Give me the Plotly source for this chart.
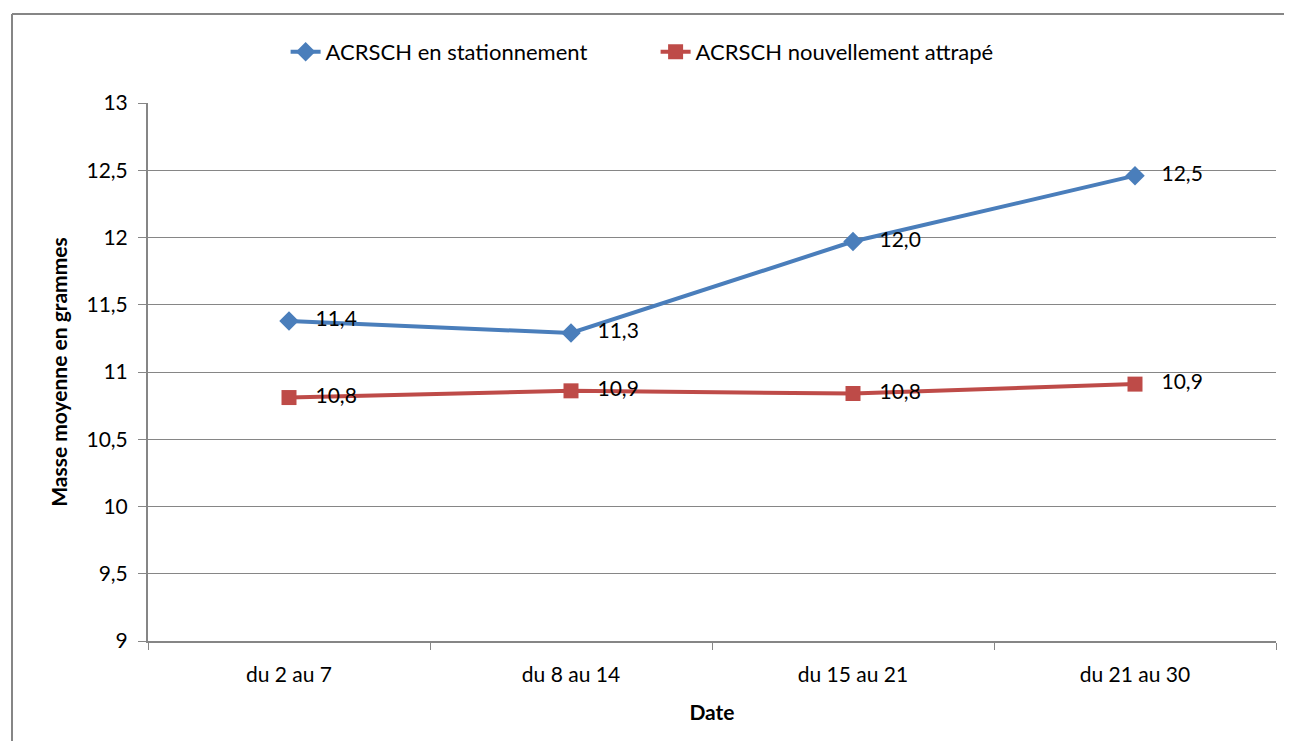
import plotly.graph_objects as go

categories = ["du 2 au 7", "du 8 au 14", "du 15 au 21", "du 21 au 30"]
stationnement = [11.38, 11.29, 11.97, 12.46]
nouvellement = [10.81, 10.86, 10.84, 10.91]
series_names = ["ACRSCH en stationnement", "ACRSCH nouvellement attrapé"]

FONT = "Lato, Open Sans, sans-serif"
PAD = "\u00a0\u00a0\u00a0"

def lbl(vals):
    return [PAD + f"{v:.1f}".replace(".", ",") for v in vals]

fig = go.Figure()
fig.add_trace(go.Scatter(
    x=categories, y=stationnement, name=series_names[0],
    mode="lines+markers+text", text=lbl(stationnement), textposition="middle right",
    textfont=dict(size=21, color="#000000", family=FONT),
    line=dict(color="#4a7ebb", width=4),
    marker=dict(symbol="diamond", size=15, color="#4a7ebb"),
))
fig.add_trace(go.Scatter(
    x=categories, y=nouvellement, name=series_names[1],
    mode="lines+markers+text", text=lbl(nouvellement), textposition="middle right",
    textfont=dict(size=21, color="#000000", family=FONT),
    line=dict(color="#be4b48", width=4),
    marker=dict(symbol="square", size=15, color="#be4b48"),
))

# page body has ~8px margin; figure sized to fit window
W, H = 1284, 733
L, T, R, B = 140, 95, 16, 100
PW, PH = W - L - R, H - T - B
bx = (4 - L) / PW
by = (H - B - 6) / PH

fig.update_layout(
    width=W, height=H,
    margin=dict(l=L, r=R, t=T, b=B),
    paper_bgcolor="white", plot_bgcolor="white",
    separators=", ",
    font=dict(family=FONT, size=21, color="#000000"),
    showlegend=True,
    legend=dict(orientation="h", x=0.45, xanchor="center", y=1 + (T - 44) / PH, yanchor="middle",
                font=dict(size=22, family=FONT), entrywidth=325, entrywidthmode="pixels"),
    xaxis=dict(
        type="category", range=[-0.5, 3.5], tickson="boundaries",
        ticks="outside", ticklen=7, tickcolor="#868686",
        showline=True, linecolor="#868686", linewidth=2,
        showgrid=False, ticklabelstandoff=14,
        tickfont=dict(size=21, family=FONT),
        title=dict(text="<b>Date</b>", font=dict(size=21, family=FONT), standoff=20),
    ),
    yaxis=dict(
        range=[9, 13], dtick=0.5, tick0=9,
        ticks="outside", ticklen=8, tickcolor="#868686",
        showline=True, linecolor="#868686", linewidth=2,
        showgrid=True, gridcolor="#868686", gridwidth=1,
        zeroline=False, ticklabelstandoff=6,
        tickfont=dict(size=21, family=FONT),
        title=dict(text="<b>Masse moyenne en grammes</b>", font=dict(size=21, family=FONT), standoff=13),
    ),
    shapes=[
        dict(type="line", xref="paper", yref="paper", x0=bx, x1=1.3, y0=by, y1=by,
             line=dict(color="#868686", width=2), layer="below"),
        dict(type="line", xref="paper", yref="paper", x0=bx, x1=bx, y0=-0.5, y1=by,
             line=dict(color="#868686", width=2), layer="below"),
    ],
)

fig.write_html("out.html")
